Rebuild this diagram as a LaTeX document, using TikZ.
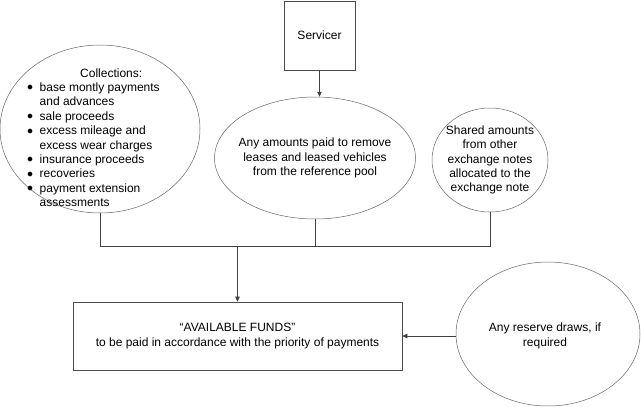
\documentclass[tikz,border=0pt]{standalone}
\usepackage{fontspec}
\setmainfont{Liberation Sans}
\usetikzlibrary{arrows.meta,positioning,shapes.geometric}

\newcommand{\dotmark}{\raisebox{.5pt}{$\bullet$}}

\begin{document}
\begin{tikzpicture}[x=1pt,y=-1pt,
    bubble/.style={ellipse,draw=black!60,line width=.5pt,inner sep=0pt},
    box/.style={rectangle,draw=black!70,line width=.6pt,inner sep=0pt},
    lbl/.style={font=\fontsize{12}{14.4}\selectfont,align=center,inner sep=0pt},
    link/.style={draw=black!75,line width=.6pt},
    flow/.style={link,-{Triangle[length=5pt,width=4.5pt]}}]
    \useasboundingbox (0,0) rectangle (641,407);

    \node[box,lbl,minimum width=71pt,minimum height=69pt] (serv) at (319.5,35.5) {Servicer};

    \node[bubble,minimum width=200pt,minimum height=168pt] (coll) at (100,129) {};
    \node[lbl,align=left,anchor=west] (colltxt) at (27,139) {%
      \begin{tabular}{@{}l@{\hspace{6.5pt}}l@{}}
        \multicolumn{2}{@{}l@{}}{\hspace{53pt}Collections:}\\
        \dotmark & base montly payments\\
                 & and advances\\
        \dotmark & sale proceeds\\
        \dotmark & excess mileage and\\
                 & excess wear charges\\
        \dotmark & insurance proceeds\\
        \dotmark & recoveries\\
        \dotmark & payment extension\\
                 & assessments
      \end{tabular}};

    \node[bubble,minimum width=201pt,minimum height=122pt] (pool) at (315,158) {};
    \node[lbl] (pooltxt) at (pool.center) {Any amounts paid to remove\\leases and leased vehicles\\from the reference pool};

    \node[bubble,minimum width=116pt,minimum height=104pt] (shared) at (490,160) {};
    \node[lbl] (sharedtxt) at (shared.center) {Shared amounts\\from other\\exchange notes\\allocated to the\\exchange note};

    \node[box,lbl,minimum width=329pt,minimum height=68pt] (funds) at (237.5,336) {``AVAILABLE FUNDS"\\to be paid in accordance with the priority of payments};

    \node[bubble,minimum width=184pt,minimum height=144pt] (reserve) at (548,334) {};
    \node[lbl] (reservetxt) at (545,336) {Any reserve draws, if\\required};

    % collecting line
    \coordinate (join) at (237.5,246);
    \draw[link] (coll.south) -- (coll.south |- join) -- (shared.south |- join) -- (shared.south);
    \draw[link] (pool.south) -- (pool.south |- join);

    \draw[flow] (serv.south) -- (serv.south |- pool.north);
    \draw[flow] (join) -- (funds.north);
    \draw[flow] (reserve.west |- funds.east) -- (funds.east);
\end{tikzpicture}
\end{document}
